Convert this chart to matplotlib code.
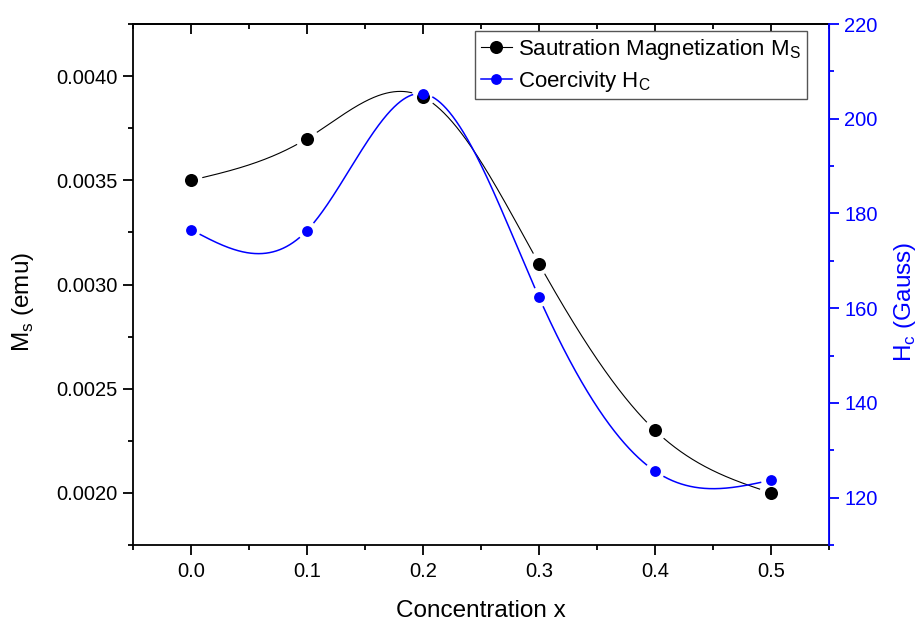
import numpy as np
import matplotlib
matplotlib.use('Agg')
import matplotlib.pyplot as plt
from matplotlib.lines import Line2D
from matplotlib.ticker import MultipleLocator

plt.rcParams['font.family'] = ['Liberation Sans', 'DejaVu Sans']
plt.rcParams['mathtext.fontset'] = 'custom'
plt.rcParams['mathtext.rm'] = 'Liberation Sans'

# data
conc = [0.0, 0.1, 0.2, 0.3, 0.4, 0.5]
ms_emu = [0.0035, 0.0037, 0.0039, 0.0031, 0.0023, 0.0020]
hc_gauss = [176.6, 176.4, 205.3, 162.3, 125.6, 123.7]


def natural_spline(x, y, xs):
    # natural cubic spline through the points
    x = np.asarray(x, float)
    y = np.asarray(y, float)
    n = len(x)
    h = np.diff(x)
    A = np.zeros((n, n))
    d = np.zeros(n)
    A[0, 0] = 1
    A[-1, -1] = 1
    for i in range(1, n - 1):
        A[i, i - 1] = h[i - 1]
        A[i, i] = 2 * (h[i - 1] + h[i])
        A[i, i + 1] = h[i]
        d[i] = 6 * ((y[i + 1] - y[i]) / h[i] - (y[i] - y[i - 1]) / h[i - 1])
    M = np.linalg.solve(A, d)
    k = np.clip(np.searchsorted(x, xs) - 1, 0, n - 2)
    hk = h[k]
    a = x[k + 1] - xs
    b = xs - x[k]
    return (M[k] * a**3 / (6 * hk) + M[k + 1] * b**3 / (6 * hk)
            + (y[k] / hk - M[k] * hk / 6) * a
            + (y[k + 1] / hk - M[k + 1] * hk / 6) * b)


def gapped(ax, x, y, xs, ys, gap_px):
    # blank the curve near each data point (Origin style line gaps)
    pts = ax.transData.transform(np.column_stack([x, y]))
    cur = ax.transData.transform(np.column_stack([xs, ys]))
    ys = ys.copy()
    for p in pts:
        dist = np.hypot(cur[:, 0] - p[0], cur[:, 1] - p[1])
        ys[dist < gap_px] = np.nan
    return ys


fig = plt.figure(figsize=(9.17, 6.21), dpi=100)
ax = fig.add_axes([133 / 917, 1 - 545 / 621, 696 / 917, 521 / 621])
ax2 = ax.twinx()

ax.set_xlim(-0.05, 0.55)
ax.set_ylim(0.00175, 0.00425)
ax2.set_ylim(110, 220)

xs = np.linspace(0, 0.5, 3000)
ms_curve = natural_spline(conc, ms_emu, xs)
hc_curve = natural_spline(conc, hc_gauss, xs)

ax.plot(xs, gapped(ax, conc, ms_emu, xs, ms_curve, 12), color='black', lw=0.8)
ax.plot(conc, ms_emu, 'o', color='black', ms=9.4, mew=0)
ax2.plot(xs, gapped(ax2, conc, hc_gauss, xs, hc_curve, 10.5), color='blue', lw=1.1)
ax2.plot(conc, hc_gauss, 'o', color='blue', ms=7.8, mew=0)

# ticks
ax.xaxis.set_major_locator(MultipleLocator(0.1))
ax.xaxis.set_minor_locator(MultipleLocator(0.05))
ax.yaxis.set_major_locator(MultipleLocator(0.0005))
ax.yaxis.set_minor_locator(MultipleLocator(0.00025))
ax.yaxis.set_major_formatter(matplotlib.ticker.FormatStrFormatter('%.4f'))
ax.xaxis.set_major_formatter(matplotlib.ticker.FormatStrFormatter('%.1f'))
ax2.yaxis.set_major_locator(MultipleLocator(20))
ax2.yaxis.set_minor_locator(MultipleLocator(10))

ax.tick_params(axis='both', which='major', direction='out', length=7, width=1.3,
               labelsize=14.5, pad=4)
ax.tick_params(axis='both', which='minor', direction='out', length=3.5, width=1.3)
ax.tick_params(axis='x', pad=5)
ax2.tick_params(axis='y', which='major', direction='out', length=7, width=1.3,
                labelsize=14.5, colors='blue', pad=4)
ax2.tick_params(axis='y', which='minor', direction='out', length=3.5, width=1.3,
                colors='blue')

top = ax.secondary_xaxis('top')
top.xaxis.set_major_locator(MultipleLocator(0.1))
top.xaxis.set_minor_locator(MultipleLocator(0.05))
top.tick_params(which='major', direction='in', length=7, width=1.3, labeltop=False)
top.tick_params(which='minor', direction='in', length=3.5, width=1.3)
top.spines['top'].set_linewidth(1.3)

for s in ['left', 'bottom', 'top']:
    ax.spines[s].set_linewidth(1.3)
ax2.spines['right'].set_color('blue')
ax2.spines['right'].set_linewidth(1.3)
for s in ['left', 'bottom', 'top']:
    ax2.spines[s].set_visible(False)

ax.set_xlabel('Concentration x', fontsize=17.5)
ax.set_ylabel(r'M$_\mathregular{s}$ (emu)', fontsize=17.5)
ax2.set_ylabel(r'H$_\mathregular{c}$ (Gauss)', fontsize=17.5, color='blue')
ax.yaxis.set_label_coords(-0.14, 0.466)
ax2.yaxis.set_label_coords(1.09, 0.466)
ax.xaxis.set_label_coords(0.5, -0.105)

handles = [
    Line2D([], [], color='black', lw=0.8, marker='o', ms=9.4, mew=0),
    Line2D([], [], color='blue', lw=1.1, marker='o', ms=7.8, mew=0),
]
labels = [r'Sautration Magnetization M$_\mathregular{S}$',
          r'Coercivity H$_\mathregular{C}$']
leg = ax2.legend(handles, labels, loc='upper right', bbox_to_anchor=(0.968, 0.986),
                 fontsize=16, frameon=True, fancybox=False, framealpha=1,
                 edgecolor='#555555', handlelength=1.4, handletextpad=0.3,
                 borderpad=0.25, labelspacing=0.3, borderaxespad=0)
leg.get_frame().set_linewidth(1.0)

fig.savefig('out.png', dpi=100)
